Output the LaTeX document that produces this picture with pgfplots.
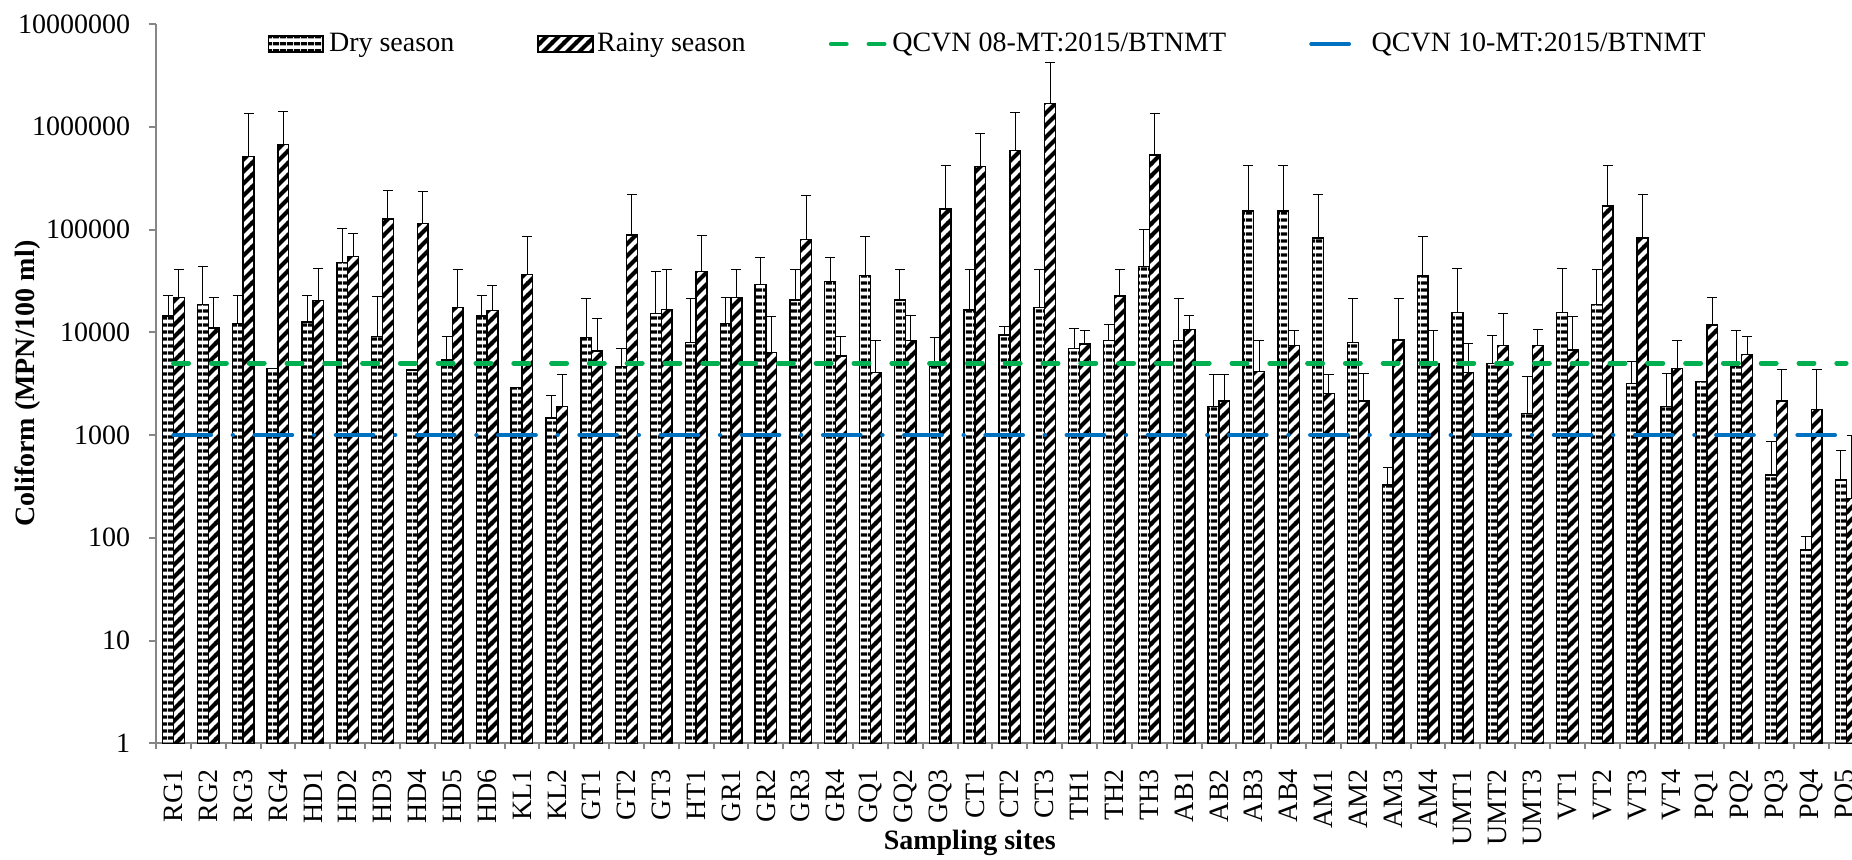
\documentclass[border=0pt]{standalone}
\usepackage{fontspec}
\setmainfont{Liberation Serif}
\usepackage{pgfplots}
\pgfplotsset{compat=1.18}
\usepackage{pgfplotstable}
\usetikzlibrary{patterns}

\definecolor{green08}{HTML}{00B050}
\definecolor{blue10}{HTML}{0070C0}
\definecolor{axisgray}{HTML}{868686}

\pgfdeclarepatternformonly{dryh}{\pgfpoint{0pt}{0pt}}{\pgfpoint{3.5pt}{3.5pt}}{\pgfpoint{3.5pt}{3.5pt}}{%
  \pgfsetlinewidth{1.8pt}%
  \pgfpathmoveto{\pgfpoint{0pt}{1.75pt}}%
  \pgfpathlineto{\pgfpoint{3.5pt}{1.75pt}}%
  \pgfusepath{stroke}}
\pgfdeclarepatternformonly{rainyd}{\pgfpoint{-1pt}{-1pt}}{\pgfpoint{7pt}{7pt}}{\pgfpoint{6pt}{6pt}}{%
  \pgfsetlinewidth{2pt}%
  \pgfpathmoveto{\pgfpoint{-1pt}{-1pt}}%
  \pgfpathlineto{\pgfpoint{7pt}{7pt}}%
  \pgfusepath{stroke}}

\pgfplotstableread{
x dry dryerr rainy rainyerr
0 14400 8600 21700 18700
1 18700 24500 11000 10700
2 12200 10800 515000 835000
3 4430 0 669000 731000
4 12600 10400 20500 21300
5 47900 55100 54300 36700
6 9060 13440 127000 115000
7 4300 0 115000 118000
8 5370 3690 17500 22900
9 14400 8600 16200 12200
10 2900 0 36700 48400
11 1460 990 1900 2000
12 8870 12230 6560 7040
13 4620 2350 88300 131700
14 15300 23600 16700 23700
15 7980 13120 38900 48800
16 12200 9600 21700 18700
17 29200 24800 6320 7880
18 20600 19800 80100 131900
19 31000 23000 5870 3190
20 35500 49600 4040 4370
21 20600 19800 8280 6420
22 4620 4180 158000 266000
23 16500 23900 408000 455000
24 9400 1900 584000 806000
25 17500 22900 1690000 2540000
26 6970 3930 7690 2810
27 8280 3520 22500 17900
28 43500 56500 531000 819000
29 8280 12820 10700 4000
30 1890 1950 2140 1700
31 152000 272000 4130 4280
32 152000 272000 7400 3100
33 82600 137400 2550 1290
34 7920 13180 2140 1840
35 326 155 8410 12690
36 35300 49800 4900 5600
37 15600 26200 4040 3760
38 4990 4410 7400 7900
39 1630 2120 7400 3300
40 15600 26200 6710 7490
41 18700 21700 169000 255000
42 3190 1980 82600 137400
43 1890 2090 4450 3960
44 3300 0 11800 9900
45 4620 5680 6100 2960
46 408 453 2140 2250
47 76 28 1780 2520
48 365 350 242 758
}\datatable

\begin{document}
\begin{tikzpicture}
\begin{axis}[
  at={(78pt,57.85pt)}, anchor=south west,
  scale only axis, width=848pt, height=359.65pt,
  font=\fontsize{14}{16.8}\selectfont,
  ymode=log, ymin=1, ymax=1e7,
  xmin=-0.5, xmax=48.166,
  axis x line*=bottom, axis y line*=left,
  axis line style={draw=axisgray, line width=1pt},
  every tick/.style={draw=axisgray, line width=1pt},
  tick align=outside,
  ytick={1,10,100,1000,10000,100000,1000000,10000000},
  yticklabels={1,10,100,1000,10000,100000,1000000,10000000},
  yminorticks=false,
  major tick length=3.75pt,
  minor tick length=3pt,
  xtick={0,...,48},
  xticklabels={RG1,RG2,RG3,RG4,HD1,HD2,HD3,HD4,HD5,HD6,KL1,KL2,GT1,GT2,GT3,HT1,GR1,GR2,GR3,GR4,GQ1,GQ2,GQ3,CT1,CT2,CT3,TH1,TH2,TH3,AB1,AB2,AB3,AB4,AM1,AM2,AM3,AM4,UMT1,UMT2,UMT3,VT1,VT2,VT3,VT4,PQ1,PQ2,PQ3,PQ4,PQ5},
  major x tick style={draw=none},
  minor xtick={-0.5,0.5,...,47.5},
  xticklabel style={rotate=90, anchor=east, inner sep=0pt},
  xticklabel shift=9pt,
  yticklabel style={anchor=east, inner sep=0pt},
  yticklabel shift=9pt,
  xlabel={\bfseries Sampling sites},
  xlabel style={at={(axis description cs:0.4798,-0.1386)}, anchor=center},
  ylabel={\bfseries Coliform (MPN/100 ml)},
  ylabel style={at={(axis description cs:-0.07565,0.5)}, anchor=center},
  legend columns=4,
  legend style={at={(axis description cs:0.0658,0.9722)}, anchor=west,
    draw=none, fill=none, inner sep=0pt, column sep=0pt, row sep=0pt,
    nodes={inner sep=0pt},
    /tikz/every even column/.append style={column sep=41.5pt}},
]
\addplot[ybar, bar width=0.31, bar shift=0pt, draw=black, line width=0.7pt, pattern=dryh,
  legend image code/.code={\draw[solid, pattern=dryh, draw=black, line width=0.7pt] (0pt,-4pt) rectangle (27.2pt,4pt); \path[draw=none, pattern=none] (0pt,0pt) -- (30.2pt,0pt);},
  error bars/.cd, y dir=plus, y explicit,
  error bar style={black, line width=0.5pt},
  error mark options={black, line width=0.5pt, mark size=2.5pt, rotate=90}]
  table[x expr=\thisrow{x}-0.155, y=dry, y error=dryerr] {\datatable};
\addlegendentry{Dry season}
\addplot[ybar, bar width=0.31, bar shift=0pt, draw=black, line width=0.7pt, pattern=rainyd,
  legend image code/.code={\draw[solid, pattern=rainyd, draw=black, line width=0.7pt] (0pt,-4pt) rectangle (27.6pt,4pt); \path[draw=none, pattern=none] (0pt,0pt) -- (29.6pt,0pt);},
  error bars/.cd, y dir=plus, y explicit,
  error bar style={black, line width=0.5pt},
  error mark options={black, line width=0.5pt, mark size=2.5pt, rotate=90}]
  table[x expr=\thisrow{x}+0.155, y=rainy, y error=rainyerr] {\datatable};
\addlegendentry{Rainy season}
\addplot[sharp plot, green08, line width=2.3pt, line cap=round, dash pattern=on 7.65pt off 11.25pt, mark=none,
  legend image code/.code={\draw[green08, line width=2.3pt, line cap=round, dash pattern=on 7.65pt off 11.25pt] (1.2pt,0pt) -- (28.8pt,0pt); \path[draw=none] (0pt,0pt) -- (31.8pt,0pt);}]
  coordinates {(0,5000) (48,5000)};
\addlegendentry{QCVN 08-MT:2015/BTNMT}
\addplot[sharp plot, blue10, line width=2.1pt, line cap=round, dash pattern=on 18.75pt off 10.9pt on 0.1pt off 10.85pt, mark=none,
  legend image code/.code={\draw[solid, blue10, line width=2.1pt, line cap=round] (1.1pt,0pt) -- (19.9pt,0pt); \path[draw=none] (0pt,0pt) -- (31.3pt,0pt);}]
  coordinates {(0,1000) (48,1000)};
\addlegendentry{QCVN 10-MT:2015/BTNMT}
\end{axis}
\pgfresetboundingbox
\path[use as bounding box] (0,0) rectangle (926pt,429.5pt);
\end{tikzpicture}
\end{document}
